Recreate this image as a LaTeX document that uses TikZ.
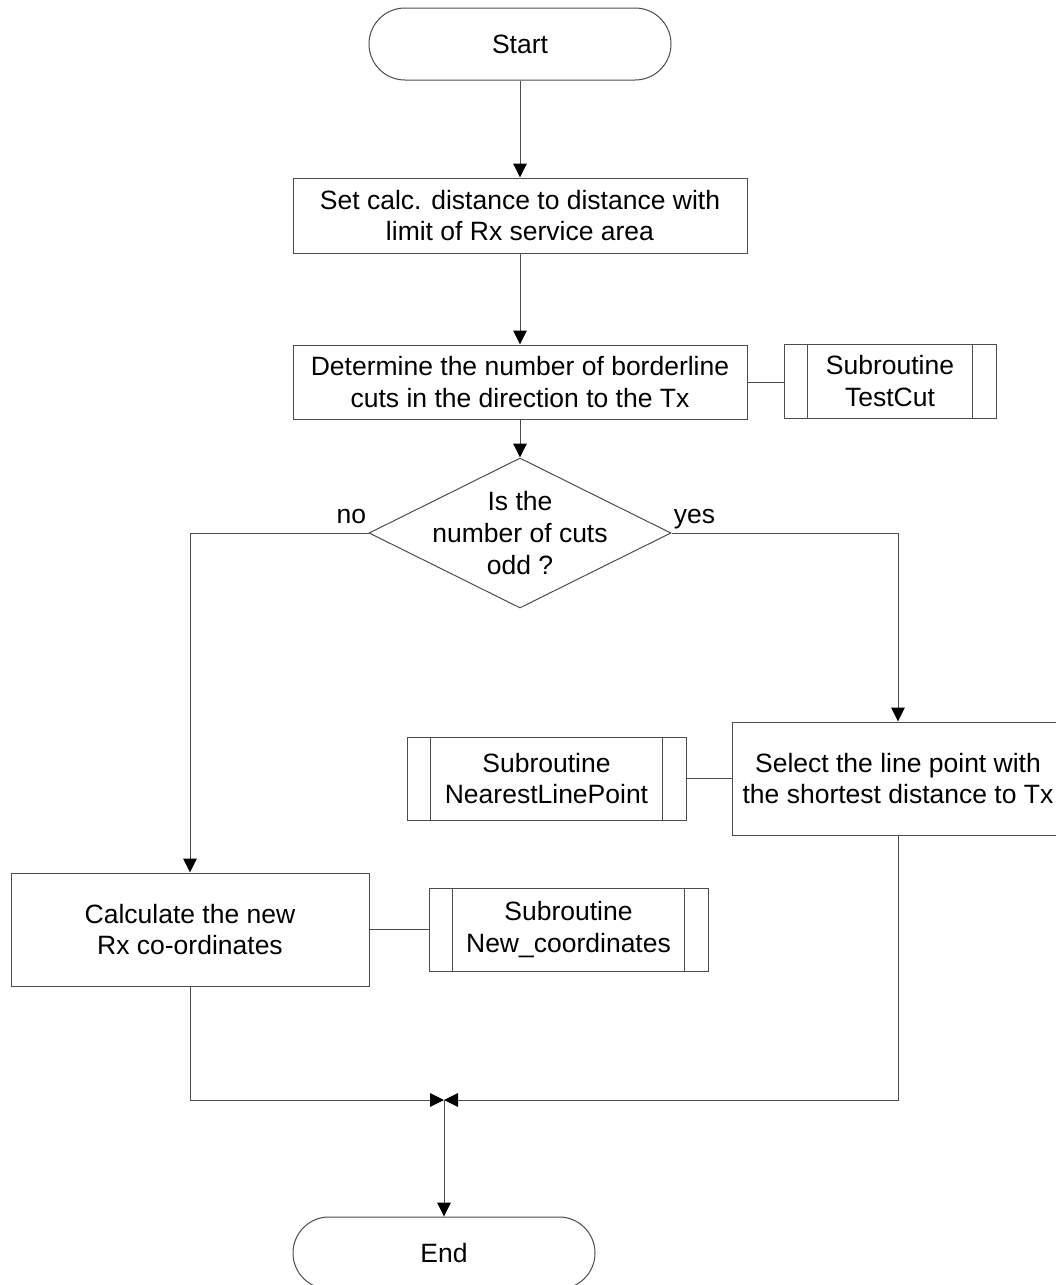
\documentclass[tikz,border=0pt]{standalone}
\usepackage{fontspec}
\setmainfont{Liberation Sans}
\usetikzlibrary{shapes.geometric,arrows.meta}
\definecolor{line-gray}{gray}{0.3}

\tikzset{
  base/.style={draw=line-gray, line width=0.5pt, align=center, inner sep=0pt,
    font=\fontsize{13.25pt}{15.8pt}\selectfont},
  terminal/.style={base, rectangle, rounded corners=18pt, minimum width=151pt, minimum height=36pt},
  process/.style={base, rectangle},
  subr/.style={base, rectangle, minimum width=139.5pt, minimum height=41.5pt},
  decision/.style={base, diamond, aspect=2, inner sep=-6pt, minimum width=151pt, minimum height=75pt},
  lbl/.style={font=\fontsize{13.25pt}{15.8pt}\selectfont, inner sep=0pt},
  flow/.style={draw=line-gray, line width=0.5pt, -{Triangle[width=6.8pt,length=7pt,color=black]}},
  link/.style={draw=line-gray, line width=0.5pt},
}

\begin{document}
\begin{tikzpicture}[x=0.5pt,y=-0.5pt]

	\useasboundingbox (0,0) rectangle (1055,1285);

	\node[terminal] (start) at (520,44) {Start};
	\node[process, minimum width=227pt, minimum height=37.5pt] (calc) at (520,215.5)
		{Set calc. distance to distance with\\limit of Rx service area};
	\node[process, minimum width=227pt, minimum height=37pt] (cuts) at (520,382)
		{Determine the number of borderline\\cuts in the direction to the Tx};
	\node[subr, minimum width=106pt, minimum height=37pt] (testcut) at (890,381) {Subroutine\\TestCut};

	\node[decision] (odd) at (520,533) {Is the\\number of cuts\\odd ?};
	\node[lbl, anchor=base east] (no) at ([xshift=-1pt,yshift=5pt]odd.west) {no};
	\node[lbl, anchor=base west] (yes) at ([xshift=1pt,yshift=5pt]odd.east) {yes};

	\node[process, minimum width=166pt, minimum height=56.5pt] (select) at (898,778.5)
		{Select the line point with\\the shortest distance to Tx};
	\node[subr] (nearest) at (546.5,778.5) {Subroutine\\NearestLinePoint};

	\node[process, minimum width=179pt, minimum height=56.5pt] (newrx) at (190,929.5)
		{Calculate the new\\Rx co-ordinates};
	\node[subr] (newcoord) at (568.5,929.5) {Subroutine\\New\_coordinates};

	\coordinate (join) at (444,1100);
	\node[terminal] (end) at (444,1253) {End};

	% side bars of the subroutine boxes
	\foreach \s in {testcut,nearest,newcoord}{
		\draw[link] ([xshift=12pt]\s.north west) -- ([xshift=12pt]\s.south west);
		\draw[link] ([xshift=-12pt]\s.north east) -- ([xshift=-12pt]\s.south east);
	}

	\draw[flow] (start) -- (calc);
	\draw[flow] (calc) -- (cuts);
	\draw[link] (cuts.east) -- (cuts.east -| testcut.west);
	\draw[flow] (cuts) -- (odd);
	\draw[flow] (odd.west) -| (newrx.north);
	\draw[flow] (odd.east) -| (select.north);
	\draw[link] (nearest.east) -- (nearest.east -| select.west);
	\draw[link] (newrx.east) -- (newcoord.west);
	\draw[flow] (newrx.south) |- (join);
	\draw[flow] (select.south) |- (join);
	\draw[flow] (join) -- (end);
\end{tikzpicture}
\end{document}
